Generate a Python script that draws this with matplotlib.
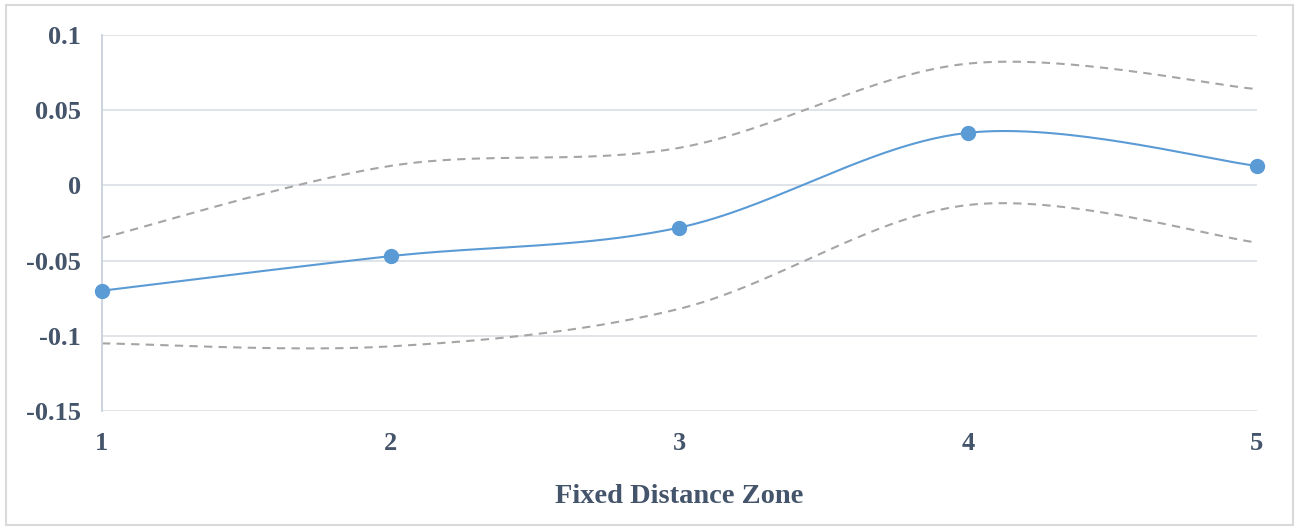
import numpy as np
import matplotlib.pyplot as plt
from matplotlib.patches import Rectangle

zones = [1, 2, 3, 4, 5]
mean_vals = [-0.070, -0.047, -0.028, 0.035, 0.013]
upper_vals = [-0.035, 0.013, 0.025, 0.081, 0.064]
lower_vals = [-0.105, -0.107, -0.082, -0.013, -0.038]
yticks = [-0.15, -0.1, -0.05, 0, 0.05, 0.1]
ytick_labels = ["-0.15", "-0.1", "-0.05", "0", "0.05", "0.1"]

text_color = "#44546A"
font = "Liberation Serif"


def smooth(xs, ys, n=60):
    # Excel-like smoothed line: cubic Bezier with Catmull-Rom control points
    p = np.column_stack([xs, ys]).astype(float)
    pts = []
    for i in range(len(p) - 1):
        p0 = p[i - 1] if i > 0 else p[i]
        p3 = p[i + 2] if i + 2 < len(p) else p[i + 1]
        c1 = p[i] + (p[i + 1] - p0) / 6
        c2 = p[i + 1] - (p3 - p[i]) / 6
        t = np.linspace(0, 1, n)[:, None]
        seg = ((1 - t) ** 3 * p[i] + 3 * (1 - t) ** 2 * t * c1
               + 3 * (1 - t) * t ** 2 * c2 + t ** 3 * p[i + 1])
        pts.append(seg if i == 0 else seg[1:])
    pts = np.vstack(pts)
    return pts[:, 0], pts[:, 1]


fig = plt.figure(figsize=(12.97, 5.27), dpi=100)
ax = fig.add_axes([0.0786, 0.22, 0.8905, 0.7136])

fig.patches.append(Rectangle((0.005, 0.003), 0.992, 0.987, transform=fig.transFigure,
                             fill=False, edgecolor="#D9D9D9", linewidth=1.5))

for v in yticks:
    ax.axhline(v, color="#DDE1E6", linewidth=1.3, zorder=0)

x, y = smooth(zones, upper_vals)
ax.plot(x, y, color="#A5A5A5", linewidth=1.5, linestyle=(0, (4, 3)))
x, y = smooth(zones, lower_vals)
ax.plot(x, y, color="#A5A5A5", linewidth=1.5, linestyle=(0, (4, 3)))
x, y = smooth(zones, mean_vals)
ax.plot(x, y, color="#5B9BD5", linewidth=1.5)
ax.plot(zones, mean_vals, "o", color="#5B9BD5", markersize=10, zorder=5, clip_on=False)

ax.set_xlim(1, 5)
ax.set_ylim(-0.15, 0.1)
ax.set_yticks(yticks)
ax.set_yticklabels(ytick_labels)
ax.set_xticks(zones)

for s in ["top", "right", "bottom"]:
    ax.spines[s].set_visible(False)
ax.spines["left"].set_color("#C9D1DF")
ax.spines["left"].set_linewidth(1.3)
ax.tick_params(length=0)
ax.tick_params(axis="y", pad=15)
ax.tick_params(axis="x", pad=15)

for lab in ax.get_xticklabels() + ax.get_yticklabels():
    lab.set_fontfamily(font)
    lab.set_fontweight("bold")
    lab.set_fontsize(19)
    lab.set_color(text_color)

ax.set_xlabel("Fixed Distance Zone", fontfamily=font, fontweight="bold",
              fontsize=20.5, color=text_color, labelpad=21)

fig.savefig("out.png", dpi=100)
